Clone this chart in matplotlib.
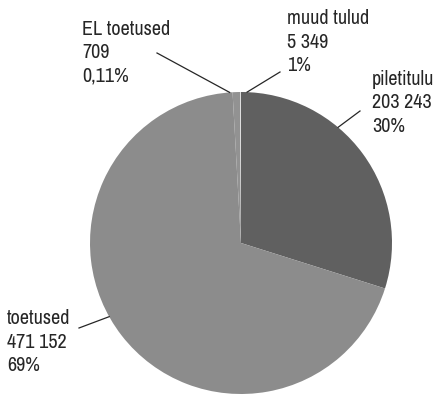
import matplotlib.pyplot as plt
import numpy as np
from matplotlib import font_manager

# Andmed
categories = ['piletitulu', 'toetused', 'muud tulud', 'EL toetused']
values = [203243, 471152, 5349, 709]
value_labels = ['203 243', '471 152', '5 349', '709']
pct_labels = ['30%', '69%', '1%', '0,11%']
colors = ['#606060', '#8c8c8c', '#929292', '#dcdcdc']

# narrow font if one is installed
fonts = font_manager.fontManager.ttflist
narrow = [f.name for f in fonts if 'Narrow' in f.name or 'Condensed' in f.name]
stretch = 'normal'
if narrow:
    fam = [narrow[0], 'DejaVu Sans']
elif any(f.name == 'DejaVu Sans' and f.stretch == 'condensed' for f in fonts):
    fam = ['DejaVu Sans']
    stretch = 'condensed'
else:
    fam = ['DejaVu Sans']
plt.rcParams['font.family'] = fam

W, H = 438, 399
fig = plt.figure(figsize=(W / 100, H / 100), dpi=100)
ax = fig.add_axes([0, 0, 1, 1])

cx, cy, r = 241, H - 243, 151
ax.pie(values, colors=colors, startangle=90, counterclock=False,
       center=(cx, cy), radius=r, frame=True,
       wedgeprops=dict(edgecolor='none', linewidth=0))
ax.set_xlim(0, W)
ax.set_ylim(0, H)
ax.set_aspect('equal')
ax.axis('off')

# label layout: left x and first baseline (pixels from top), leader start, edge angle
text_pos = {'piletitulu': (372, 85), 'toetused': (7, 324),
            'muud tulud': (287, 24), 'EL toetused': (82, 35)}
line_start = {'piletitulu': (360, 111), 'toetused': (79, 328),
              'muud tulud': (280, 72), 'EL toetused': (157, 53)}
edge_angle = {'piletitulu': 50, 'toetused': 209.2,
              'muud tulud': 87.7, 'EL toetused': 94.3}
step = 23.5

for cat, val, pct in zip(categories, value_labels, pct_labels):
    tx, ty = text_pos[cat]
    for i, s in enumerate([cat, val, pct]):
        ax.text(tx, H - ty - i * step, s, ha='left', va='baseline',
                fontsize=14.5, fontstretch=stretch, color='#262626')
    a = np.deg2rad(edge_angle[cat])
    ex, ey = cx + r * np.cos(a), cy + r * np.sin(a)
    sx, sy = line_start[cat]
    ax.plot([sx, ex], [H - sy, ey], color='#262626', lw=0.9)

fig.savefig('out.png', dpi=100, facecolor='white')
